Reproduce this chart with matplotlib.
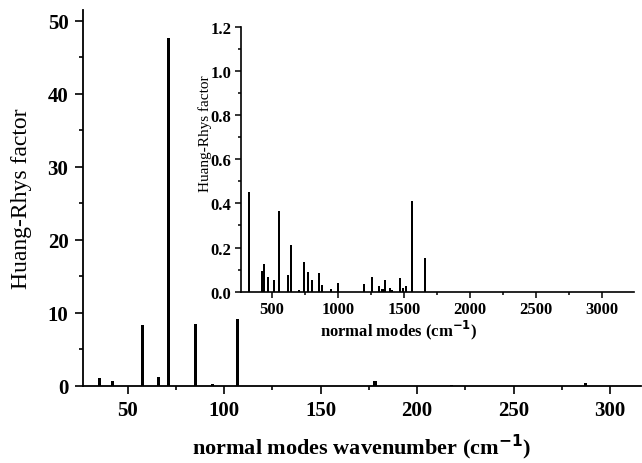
import matplotlib
matplotlib.use('Agg')
import matplotlib.pyplot as plt
from matplotlib.ticker import MultipleLocator

plt.rcParams['font.family'] = ['Liberation Serif', 'DejaVu Serif']

# low-frequency modes (main panel)
modes_low = [35.3, 42.0, 57.5, 65.9, 71.2, 85.2, 94.0, 107.0, 178.2, 217.9, 287.3]
hr_low = [1.1, 0.6, 8.3, 1.2, 47.7, 8.4, 0.2, 9.2, 0.6, 0.05, 0.4]

# higher modes (inset)
modes_high = [328, 424, 437, 470, 515, 551, 621, 646, 705, 742, 775, 803, 854, 879,
              945, 1002, 1197, 1255, 1313, 1336, 1358, 1396, 1410, 1470, 1490, 1513,
              1558, 1657]
hr_high = [0.452, 0.095, 0.125, 0.065, 0.053, 0.367, 0.077, 0.213, 0.008, 0.134,
           0.088, 0.053, 0.083, 0.029, 0.012, 0.041, 0.035, 0.065, 0.027, 0.012,
           0.054, 0.017, 0.008, 0.06, 0.018, 0.027, 0.41, 0.152]

fig = plt.figure(figsize=(6.42, 4.64), dpi=100)
ax = fig.add_axes([0.1293, 0.1666, 0.869, 0.81])
ax.bar(modes_low, hr_low, width=1.6, color='black')
ax.set_xlim(26.9, 316)
ax.set_ylim(0, 51.5)
for s in ['top', 'right']:
    ax.spines[s].set_visible(False)
for s in ['left', 'bottom']:
    ax.spines[s].set_linewidth(1.3)
ax.xaxis.set_major_locator(MultipleLocator(50))
ax.xaxis.set_minor_locator(MultipleLocator(25))
ax.yaxis.set_major_locator(MultipleLocator(10))
ax.yaxis.set_minor_locator(MultipleLocator(5))
ax.tick_params(which='major', direction='out', length=5.5, width=1.2, labelsize=15, pad=5)
ax.tick_params(which='minor', direction='out', length=3, width=1.2)
for lab in ax.get_xticklabels() + ax.get_yticklabels():
    lab.set_fontweight('bold')
ax.set_ylabel('Huang-Rhys factor', fontsize=17)
ax.yaxis.set_label_coords(-0.091, 0.5)
ax.set_xlabel(r'normal modes wavenumber (cm$^{\mathbf{-1}}$)', fontsize=16, fontweight='bold')
ax.xaxis.set_label_coords(0.5, -0.122)

ins = fig.add_axes([0.3754, 0.3692, 0.612, 0.571])
ins.set_facecolor('none')
ins.bar(modes_high, hr_high, width=16, color='black')
ins.set_xlim(265, 3240)
ins.set_ylim(0, 1.2)
for s in ['top', 'right']:
    ins.spines[s].set_visible(False)
for s in ['left', 'bottom']:
    ins.spines[s].set_linewidth(1.2)
ins.xaxis.set_major_locator(MultipleLocator(500))
ins.xaxis.set_minor_locator(MultipleLocator(250))
ins.yaxis.set_major_locator(MultipleLocator(0.2))
ins.yaxis.set_minor_locator(MultipleLocator(0.1))
ins.yaxis.set_major_formatter(matplotlib.ticker.FormatStrFormatter('%.1f'))
ins.tick_params(which='major', direction='out', length=4, width=1.1, labelsize=12, pad=3)
ins.tick_params(which='minor', direction='out', length=2.5, width=1.1)
for lab in ins.get_xticklabels() + ins.get_yticklabels():
    lab.set_fontweight('bold')
ins.set_ylabel('Huang-Rhys factor', fontsize=11)
ins.yaxis.set_label_coords(-0.074, 0.6)
ins.set_xlabel(r'normal modes (cm$^{\mathbf{-1}}$)', fontsize=12, fontweight='bold')
ins.xaxis.set_label_coords(0.402, -0.098)

fig.savefig('out.png', dpi=100)
